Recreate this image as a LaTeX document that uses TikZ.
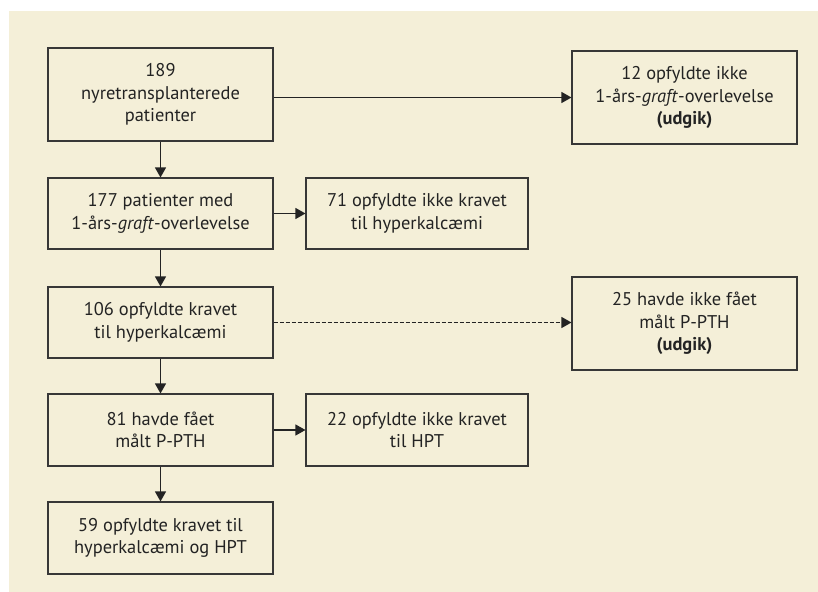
\documentclass[tikz,border=0pt]{standalone}
\usepackage{fontspec}
\setmainfont{PT Sans}
\usetikzlibrary{arrows.meta,positioning}
\definecolor{bgbeige}{RGB}{244,239,216}
\definecolor{boxline}{RGB}{55,55,55}
\definecolor{txtgray}{RGB}{35,35,35}

\begin{document}
\begin{tikzpicture}[x=1bp, y=-1bp,
  every node/.style={font=\fontsize{18.5}{22.5}\selectfont, text=txtgray, align=center},
  flowbox/.style={draw=boxline, line width=1.1bp, fill=bgbeige, inner sep=0pt, minimum width=225bp},
  flowarrow/.style={-{Triangle[length=10bp,width=11bp]}, line width=1.2bp, draw=txtgray}]
% background panel
\useasboundingbox (0,0) rectangle (818,592);
\fill[bgbeige] (9,11) rectangle (818,592);
% main column
\node[flowbox, minimum height=93bp] (pat) at (160.5,94.5) {189\\nyretransplanterede\\patienter};
\node[flowbox, minimum height=71bp] (graft) at (160.5,213.5) {177 patienter med\\1-års-\textit{graft}-overlevelse};
\node[flowbox, minimum height=71bp] (hyper) at (160.5,322.5) {106 opfyldte kravet\\til hyperkalcæmi};
\node[flowbox, minimum height=72bp] (pth) at (160.5,430) {81 havde fået\\målt P-PTH};
\node[flowbox, minimum height=72bp] (hpt) at (160.5,538) {59 opfyldte kravet til\\hyperkalcæmi og HPT};
% side boxes
\node[flowbox, minimum width=222bp, minimum height=71bp] (nohyper) at (417,213.5) {71 opfyldte ikke kravet\\til hyperkalcæmi};
\node[flowbox, minimum width=222bp, minimum height=72bp] (nohpt) at (417,430) {22 opfyldte ikke kravet\\til HPT};
% excluded boxes
\node[flowbox, minimum height=93bp] (nograft) at (684.5,97.5) {12 opfyldte ikke\\1-års-\textit{graft}-overlevelse\\\textbf{(udgik)}};
\node[flowbox, minimum height=93bp] (nopth) at (684.5,323.5) {25 havde ikke fået\\målt P-PTH\\\textbf{(udgik)}};
% connectors
\draw[flowarrow] (pat) -- (graft);
\draw[flowarrow] (graft) -- (hyper);
\draw[flowarrow] (hyper) -- (pth);
\draw[flowarrow] (pth) -- (hpt);
\draw[flowarrow] (graft) -- (nohyper);
\draw[flowarrow] (pth) -- (nohpt);
\draw[flowarrow] (nograft.west -| pat.east) -- (nograft.west);
\draw[flowarrow, dash pattern=on 4bp off 2bp] (hyper.east) -- (hyper.east -| nopth.west);
\end{tikzpicture}
\end{document}
